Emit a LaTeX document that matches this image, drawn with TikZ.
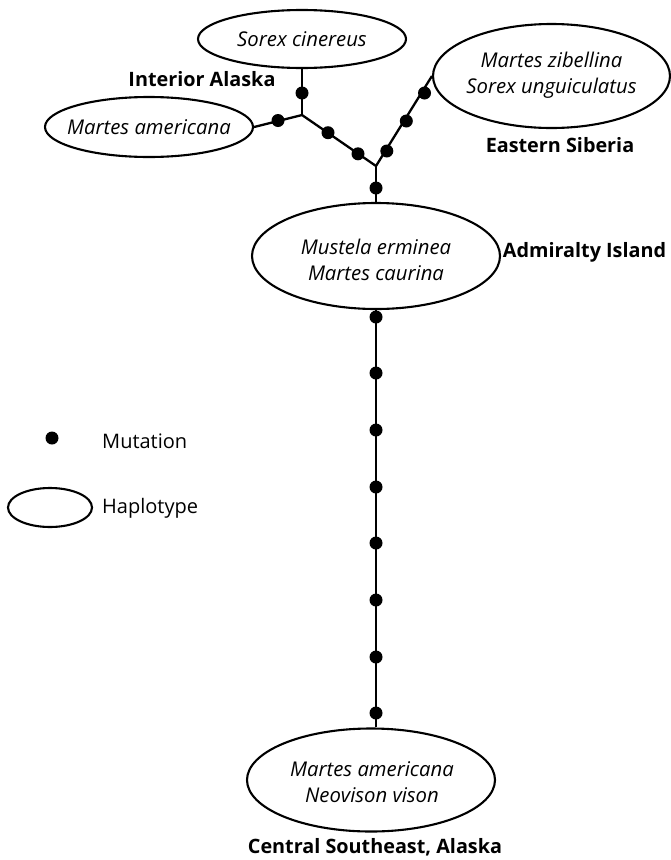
\documentclass[tikz,border=0pt]{standalone}
\usepackage{fontspec}
\setmainfont{Open Sans}
\usetikzlibrary{shapes.geometric}
\tikzset{
  hap/.style={draw, ellipse, line width=2.1pt, inner sep=0pt},
  mut/.style={circle, fill, inner sep=0pt, minimum size=13pt},
  sp/.style={font=\fontsize{20.3}{26.5}\selectfont\itshape, align=center, inner sep=0pt},
  region/.style={font=\fontsize{19.8}{26}\selectfont\bfseries, inner sep=0pt},
  legtext/.style={font=\fontsize{20}{26}\selectfont, inner sep=0pt, anchor=west},
  link/.style={line width=2.3pt},
}
\begin{document}
\begin{tikzpicture}[x=1pt,y=-1pt]
\useasboundingbox (0,0) rectangle (671,860);
% haplotype ellipses
\node[hap, minimum width=208pt, minimum height=58pt] (sc) at (302,39) {};
\node[hap, minimum width=208pt, minimum height=60pt] (ma) at (149,127) {};
\node[hap, minimum width=237pt, minimum height=104pt] (mz) at (551.5,76) {};
\node[hap, minimum width=248pt, minimum height=106pt] (me) at (376,256) {};
\node[hap, minimum width=248pt, minimum height=103pt] (mv) at (371,780) {};
% junctions
\coordinate (j1) at (302,115);
\coordinate (j2) at (376,166);
% connectors
\draw[link] (sc) -- (j1);
\draw[link] (ma.east) -- (j1);
\draw[link] (j1) -- (j2);
\draw[link] (j2) -- (mz.west);
\draw[link] (j2) -- (me);
\draw[link] (me.south) -- (me.south |- mv.north);
% mutations
\node[mut] (d1) at (302,93) {};
\node[mut] (d2) at (278,120.5) {};
\node[mut] (d3) at (328,132.7) {};
\node[mut] (d4) at (358,153.8) {};
\node[mut] (d5) at (386.8,151) {};
\node[mut] (d6) at (406.3,121) {};
\node[mut] (d7) at (424.5,93) {};
\node[mut] (d8) at (376,188) {};
\foreach \yy [count=\i] in {317,373,430,487,543,600,657,713}
  \node[mut] (v\i) at (376,\yy) {};
% species texts
\node[sp] (tsc) at (sc) {Sorex cinereus};
\node[sp] (tma) at (ma) {Martes americana};
\node[sp] (tmz) at (551.5,75) {Martes zibellina\\Sorex unguiculatus};
\node[sp] (tme) at (376,260) {Mustela erminea\\Martes caurina};
\node[sp] (tmv) at (372,782) {Martes americana\\Neovison vison};
% region labels
\node[region] (ria) at (202,79) {Interior Alaska};
\node[region] (res) at (560,145) {Eastern Siberia};
\node[region] (rai) at (584.5,252) {Admiralty Island};
\node[region] (rcs) at (375,847) {Central Southeast, Alaska};
% legend
\node[mut] (lm) at (52,438) {};
\node[legtext] (lmt) at (102,441) {Mutation};
\node[hap, minimum width=84pt, minimum height=39pt] (lh) at (50,507.5) {};
\node[legtext] (lht) at (102,508) {Haplotype};
\end{tikzpicture}
\end{document}
